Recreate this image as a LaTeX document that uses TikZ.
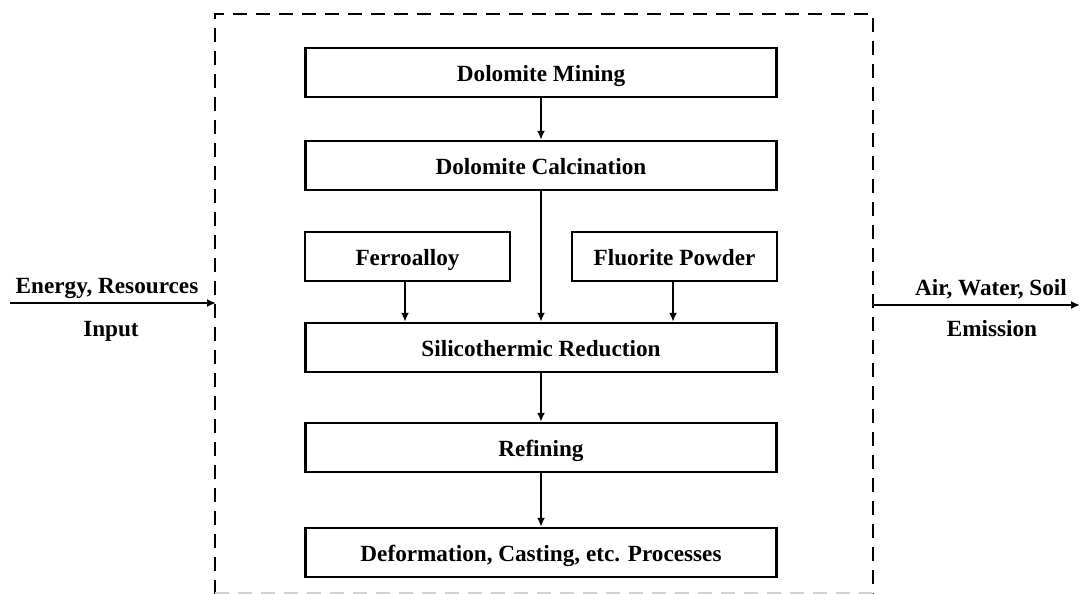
\documentclass[tikz,border=0pt]{standalone}
\usepackage{fontspec}
\setmainfont{Liberation Serif}
\usetikzlibrary{arrows.meta}
\begin{document}
\begin{tikzpicture}[x=1pt,y=-1pt,
  every node/.style={font=\fontsize{23.2}{27}\selectfont\bfseries},
  txt/.style={inner sep=0pt,text height=20pt,text depth=2pt},
  stage/.style={txt,draw,line width=2.5pt,rectangle,minimum width=471pt,minimum height=49pt},
  feed/.style={txt,draw,line width=2.5pt,rectangle,minimum width=205pt,minimum height=49pt},
  flow/.style={line width=2.2pt,-{Latex[length=9pt,width=8pt]}},
  frame/.style={line width=2.6pt,dash pattern=on 14pt off 9pt},
  label/.style={txt}]
\useasboundingbox (0,0) rectangle (1080,594);
\fill[white] (0,0) rectangle (1080,594);

% system boundary: dark on three sides, faint along the bottom edge
\coordinate (fTL) at (215,14);
\coordinate (fTR) at (873,14);
\coordinate (fBL) at (215,594);
\coordinate (fBR) at (873,594);
\draw[frame] (fBL) -- (fTL) -- (fTR) -- (fBR);
\draw[frame,black!18] (215,593.5) -- (873,593.5);

% process chain
\node[stage] (mining) at (541,72.5) {Dolomite Mining};
\node[stage] (calc) at (541,165.5) {Dolomite Calcination};
\node[feed] (ferro) at (407.5,256.5) {Ferroalloy};
\node[feed] (fluor) at (674.5,256.5) {Fluorite Powder};
\node[stage] (sili) at (541,347.5) {Silicothermic Reduction};
\node[stage] (refine) at (541,447.5) {Refining};
\node[stage] (deform) at (541,552.5) {Deformation, Casting, etc. Processes};

\draw[flow] (mining) -- (calc);
\draw[flow] (calc) -- (sili);
\draw[flow] (ferro.south -| 405,0) -- (sili.north -| 405,0);
\draw[flow] (fluor.south -| 673,0) -- (sili.north -| 673,0);
\draw[flow] (sili) -- (refine);
\draw[flow] (refine) -- (deform);

% inputs and emissions across the boundary
\coordinate (inStart) at (10,303);
\coordinate (inEnd) at (216,303);
\coordinate (outStart) at (873,305);
\coordinate (outEnd) at (1080,305);
\draw[flow] (inStart) -- (inEnd);
\draw[flow] (outStart) -- (outEnd);
\node[label] (inTop) at (107,284) {Energy, Resources};
\node[label] (inBot) at (111,327) {Input};
\node[label] (outTop) at (991,286) {Air, Water, Soil};
\node[label] (outBot) at (992,327.5) {Emission};
\end{tikzpicture}
\end{document}
